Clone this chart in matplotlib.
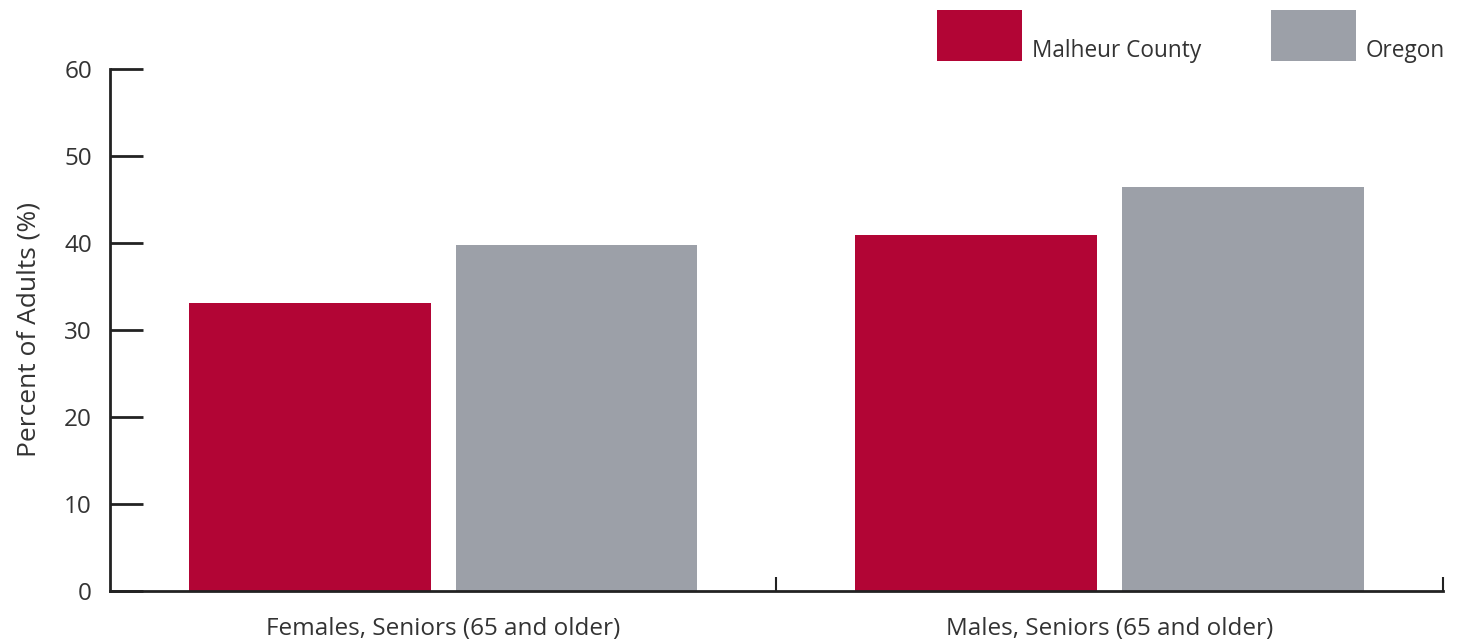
import matplotlib.pyplot as plt
from matplotlib.patches import Rectangle
import numpy as np

plt.rcParams['font.family'] = ['Open Sans', 'DejaVu Sans']

categorias = ['Females, Seniors (65 and older)', 'Males, Seniors (65 and older)']
malheur = [33.1, 40.9]
oregon = [39.8, 46.4]
series = ['Malheur County', 'Oregon']

vermelho = '#B20535'
cinza = '#9CA0A8'
texto = '#333333'

fig = plt.figure(figsize=(14.66, 6.41), dpi=100)
ax = fig.add_axes([0.075, 0.078, 0.9093, 0.8146])

x = np.arange(len(categorias))
largura = 0.363
ax.bar(x - 0.2, malheur, largura, color=vermelho, zorder=1)
ax.bar(x + 0.2, oregon, largura, color=cinza, zorder=1)

ax.set_xlim(-0.5, 1.5)
ax.set_ylim(0, 60)
ax.set_yticks(range(0, 61, 10))
ax.set_xticks([0.5, 1.5])
ax.set_xticklabels(['', ''])
ax.set_xticks(x, minor=True)
ax.set_xticklabels(categorias, minor=True)

for s in ['top', 'right']:
    ax.spines[s].set_visible(False)
for s in ['left', 'bottom']:
    ax.spines[s].set_linewidth(2)
    ax.spines[s].set_color('#222222')
    ax.spines[s].set_zorder(3)

ax.tick_params(axis='y', direction='in', length=24, width=2, color='#222222',
               labelsize=17.5, labelcolor=texto, pad=13)
ax.tick_params(axis='x', which='major', direction='in', length=10, width=1.5, color='#222222')
ax.tick_params(axis='x', which='minor', length=0, labelsize=17.5, labelcolor=texto, pad=19)

ax.set_ylabel('Percent of Adults (%)', fontsize=19, color=texto, labelpad=16)

# legenda no topo (quadrados grandes, texto alinhado embaixo)
cores = [vermelho, cinza]
pos_x = [0.6392, 0.867]
for cor, px, nome in zip(cores, pos_x, series):
    fig.add_artist(Rectangle((px, 0.9048), 0.058, 0.0796, transform=fig.transFigure,
                             facecolor=cor, edgecolor='none'))
    fig.text(px + 0.0648, 0.911, nome, fontsize=16.3, color=texto, va='baseline', ha='left')

fig.savefig('out.png', dpi=100)
